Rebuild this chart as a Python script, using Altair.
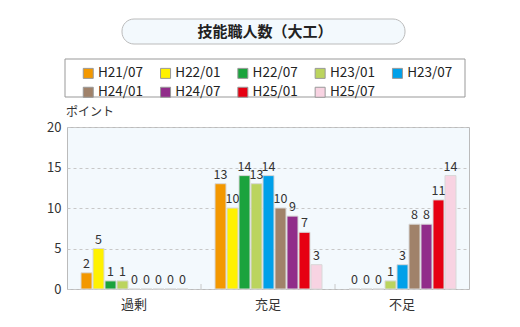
import altair as alt
import pandas as pd

title_text = "技能職人数（大工）"
categories = ["過剰", "充足", "不足"]
series = ["H21/07", "H22/01", "H22/07", "H23/01", "H23/07", "H24/01", "H24/07", "H25/01", "H25/07"]
colors = ["#F39800", "#FFF100", "#1BA33D", "#BBD45E", "#00A0E9", "#A0826A", "#912D8A", "#E60012", "#F8D3E2"]
values_kajo = [2, 5, 1, 1, 0, 0, 0, 0, 0]
values_juusoku = [13, 10, 14, 13, 14, 10, 9, 7, 3]
values_fusoku = [0, 0, 0, 1, 3, 8, 8, 11, 14]
y_ticks = [0, 5, 10, 15, 20]
y_label = "ポイント"

FONT = "Noto Sans CJK JP"

rows = []
for cat, vals in zip(categories, [values_kajo, values_juusoku, values_fusoku]):
    for s, v in zip(series, vals):
        rows.append({"cat": cat, "series": s, "value": v})
df = pd.DataFrame(rows)

W, H = 402, 162

xenc = alt.X("cat:N", sort=categories,
             scale=alt.Scale(paddingInner=0, paddingOuter=0),
             axis=alt.Axis(title=None, labelFontSize=13, labelFont=FONT, labelColor="#333",
                           labelPadding=9, ticks=False, domain=False, labelAngle=0))
xoff = alt.XOffset("series:N", sort=series,
                   scale=alt.Scale(range=[13.5, 121.5], paddingInner=0.0833, paddingOuter=0.0417))
yenc = alt.Y("value:Q", scale=alt.Scale(domain=[0, 20], nice=False),
             axis=alt.Axis(title=None, values=y_ticks, labelFontSize=13, labelFont=FONT,
                           labelColor="#333", ticks=False, domain=False, labelPadding=6,
                           grid=True, gridDash=[3, 3], gridColor="#c8c8c8"))
color = alt.Color("series:N", sort=series,
                  scale=alt.Scale(domain=series, range=colors),
                  legend=alt.Legend(orient="none", legendX=14.5, legendY=-60.5, columns=5,
                                    direction="horizontal",
                                    title=None, symbolType="square", symbolSize=100,
                                    symbolStrokeColor="#999", symbolStrokeWidth=1,
                                    symbolOpacity=1,
                                    labelFontSize=13.5, labelFont=FONT, labelColor="#222",
                                    labelOffset=3, columnPadding=14.3, rowPadding=4,
                                    padding=0))

base = alt.Chart(df)

bars = base.mark_bar(stroke="#d8d8d8", strokeWidth=1).encode(
    x=xenc, xOffset=xoff, y=yenc, color=color)

labels = base.mark_text(baseline="bottom", dy=-2, fontSize=12.5, font=FONT, color="#333").encode(
    x=xenc, xOffset=xoff, y=yenc, text="value:Q")

cat_df = pd.DataFrame({"cat": categories[1:]})
sep = alt.Chart(cat_df).mark_rule(color="#c8c8c8", strokeWidth=1).encode(
    x=alt.X("cat:N", sort=categories, bandPosition=0), y=alt.value(H - 5), y2=alt.value(H))

title_df = pd.DataFrame({"t": [title_text]})
title_box = alt.Chart(title_df).mark_rect(fill="#F3F9FD", stroke="#bbbbbb", strokeWidth=1,
                                          cornerRadius=12).encode(
    x=alt.value(55), x2=alt.value(338), y=alt.value(-108), y2=alt.value(-83))
title = alt.Chart(title_df).mark_text(fontSize=15, fontWeight="bold", font=FONT, color="#222").encode(
    x=alt.value(198), y=alt.value(-95.5), text="t:N")

legend_box = alt.Chart(title_df).mark_rect(fill="white", stroke="#999999", strokeWidth=1).encode(
    x=alt.value(-2), x2=alt.value(398), y=alt.value(-68), y2=alt.value(-30))

ylab_df = pd.DataFrame({"t": [y_label]})
ylab = alt.Chart(ylab_df).mark_text(fontSize=12, font=FONT, color="#333", align="left").encode(
    x=alt.value(-1), y=alt.value(-15.5), text="t:N")

chart = alt.layer(title_box, title, legend_box, ylab, bars, sep, labels).properties(
    width=W, height=H,
    padding={"left": 67, "top": 127, "right": 51, "bottom": 38},
    autosize=alt.AutoSizeParams(type="none"),
    background="white",
).configure_view(fill="#F3F9FD", stroke="#bbbbbb", strokeWidth=1)

chart.save("out.html", embed_options={"renderer": "svg", "actions": False})
